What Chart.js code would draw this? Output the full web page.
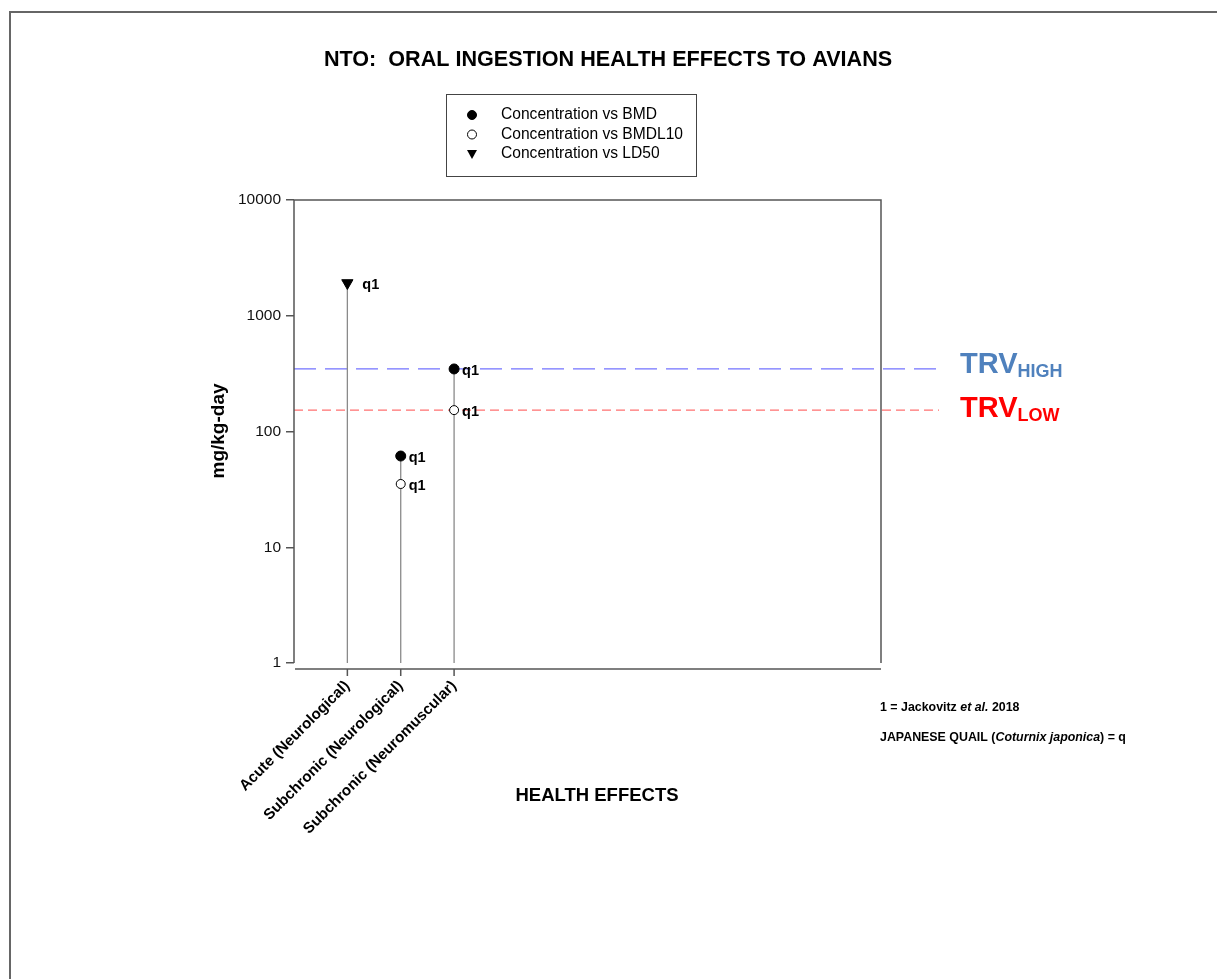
<!DOCTYPE html>
<html>
<head>
<meta charset="utf-8">
<title>NTO: Oral ingestion health effects to avians</title>
<script src="https://cdn.jsdelivr.net/npm/chart.js@4"></script>
<style>
  html, body { margin: 0; padding: 0; background: #fff; overflow: hidden; }
  #page { position: absolute; left: 9px; top: 11px; width: 1400px; height: 1200px;
          border-left: 2px solid #666; border-top: 2px solid #666; }
  #chart { position: absolute; left: 0; top: 0; }
</style>
</head>
<body>
<div id="page"></div>
<canvas id="chart" width="1217" height="979"></canvas>
<script>
// data
const categories = ['Acute (Neurological)', 'Subchronic (Neurological)', 'Subchronic (Neuromuscular)'];
const categoryX = [1, 2, 3];
const bmd = [null, 61.4, 347];
const bmdl10 = [null, 35.2, 153];
const ld50 = [1920, null, null];
const noteLabel = 'q1';
const yTicks = [1, 10, 100, 1000, 10000];
const trvHigh = 347;
const trvLow = 153;

const FONT = 'Arial, "Liberation Sans", sans-serif';
const AXIS = '#555';

function toPoints(values) {
  return categoryX.map((x, i) => ({ x, y: values[i] })).filter(p => p.y != null);
}

// one stem per category, from the axis floor up to the highest mark
const stems = categoryX.map((x, i) => {
  const top = Math.max(...[bmd[i], bmdl10[i], ld50[i]].filter(v => v != null));
  return {
    type: 'line',
    data: [{ x, y: yTicks[0] }, { x, y: top }],
    borderColor: '#8a8a8a',
    borderWidth: 1.3,
    pointRadius: 0,
    order: 10
  };
});

function pointSet(label, values, style) {
  return Object.assign({
    type: 'scatter',
    label,
    data: toPoints(values),
    order: 0
  }, style);
}

const datasets = [
  pointSet('Concentration vs BMD', bmd, {
    pointStyle: 'circle', pointRadius: 5, pointBackgroundColor: '#000',
    pointBorderColor: '#000', pointBorderWidth: 1
  }),
  pointSet('Concentration vs BMDL10', bmdl10, {
    pointStyle: 'circle', pointRadius: 4.5, pointBackgroundColor: '#fff',
    pointBorderColor: '#000', pointBorderWidth: 1
  }),
  pointSet('Concentration vs LD50', ld50, {
    pointStyle: 'triangle', pointRotation: 180, pointRadius: 6.5,
    pointBackgroundColor: '#000', pointBorderColor: '#000', pointBorderWidth: 1
  }),
  ...stems
];

function drawSymbol(ctx, kind, x, y) {
  ctx.beginPath();
  if (kind === 'tri') {
    ctx.moveTo(x - 5, y - 4);
    ctx.lineTo(x + 5, y - 4);
    ctx.lineTo(x, y + 5);
    ctx.closePath();
    ctx.fillStyle = '#000';
    ctx.fill();
  } else {
    ctx.arc(x, y, 4.5, 0, Math.PI * 2);
    ctx.fillStyle = kind === 'open' ? '#fff' : '#000';
    ctx.fill();
    ctx.strokeStyle = '#000';
    ctx.lineWidth = 1;
    ctx.stroke();
  }
}

// draws runs of text with mixed styles, left to right
function drawRuns(ctx, runs, x, y) {
  ctx.textAlign = 'left';
  ctx.textBaseline = 'middle';
  for (const [text, font] of runs) {
    ctx.font = font;
    ctx.fillText(text, x, y);
    x += ctx.measureText(text).width;
  }
}

const annotations = {
  id: 'annotations',
  beforeDatasetsDraw(chart) {
    const { ctx, chartArea: a, scales: { y } } = chart;
    ctx.save();
    const trvLines = [[trvHigh, '#7373ff', [22, 9]], [trvLow, '#ff7070', [9, 5]]];
    for (const [v, color, dash] of trvLines) {
      const py = y.getPixelForValue(v);
      ctx.beginPath();
      ctx.setLineDash(dash);
      ctx.strokeStyle = color;
      ctx.lineWidth = 1.2;
      ctx.moveTo(a.left, py);
      ctx.lineTo(a.right + 58, py);
      ctx.stroke();
    }
    ctx.restore();
  },
  afterDraw(chart) {
    const { ctx, chartArea: a, scales: { x, y } } = chart;
    ctx.save();

    // plot frame: left, top, right, and offset x axis
    ctx.strokeStyle = AXIS;
    ctx.lineWidth = 1.5;
    ctx.beginPath();
    ctx.moveTo(a.left, a.bottom);
    ctx.lineTo(a.left, a.top);
    ctx.lineTo(a.right, a.top);
    ctx.lineTo(a.right, a.bottom);
    const axisY = a.bottom + 6;
    ctx.moveTo(a.left + 1, axisY);
    ctx.lineTo(a.right, axisY);
    for (const cx of categoryX) {
      const px = x.getPixelForValue(cx);
      ctx.moveTo(px, axisY);
      ctx.lineTo(px, axisY + 7);
    }
    ctx.stroke();

    // q1 notes beside each mark
    ctx.fillStyle = '#000';
    ctx.font = 'bold 14.5px ' + FONT;
    ctx.textAlign = 'left';
    ctx.textBaseline = 'middle';
    [0, 1, 2].forEach(di => {
      const meta = chart.getDatasetMeta(di);
      const dx = di === 2 ? 15 : 8;
      meta.data.forEach(el => ctx.fillText(noteLabel, el.x + dx, el.y + 2));
    });

    // TRV labels
    const trvLabels = [[trvHigh, '#4f81bd', 'HIGH', 4], [trvLow, '#ff0000', 'LOW', 7]];
    for (const [v, color, sub, off] of trvLabels) {
      const py = y.getPixelForValue(v) + off;
      ctx.fillStyle = color;
      ctx.textBaseline = 'alphabetic';
      ctx.font = 'bold 29px ' + FONT;
      ctx.fillText('TRV', a.right + 79, py);
      const w = ctx.measureText('TRV').width;
      ctx.font = 'bold 18px ' + FONT;
      ctx.fillText(sub, a.right + 79 + w, py + 4);
    }

    // title
    ctx.fillStyle = '#000';
    ctx.font = 'bold 21.6px ' + FONT;
    ctx.textAlign = 'center';
    ctx.textBaseline = 'middle';
    ctx.fillText('NTO:  ORAL INGESTION HEALTH EFFECTS TO AVIANS', 608, 60);

    // axis titles
    ctx.font = 'bold 18.5px ' + FONT;
    ctx.fillText('HEALTH EFFECTS', 597, 796);
    ctx.save();
    ctx.translate(219, 431);
    ctx.rotate(-Math.PI / 2);
    ctx.font = 'bold 19px ' + FONT;
    ctx.fillText('mg/kg-day', 0, 0);
    ctx.restore();

    // legend
    ctx.strokeStyle = '#444';
    ctx.lineWidth = 1;
    ctx.strokeRect(446.5, 94.5, 250, 82);
    const legendRows = [['fill', datasets[0].label], ['open', datasets[1].label], ['tri', datasets[2].label]];
    legendRows.forEach(([kind, text], i) => {
      const ry = 115 + i * 19.5;
      drawSymbol(ctx, kind, 472, ry);
      ctx.fillStyle = '#000';
      ctx.font = '15.6px ' + FONT;
      ctx.textAlign = 'left';
      ctx.textBaseline = 'middle';
      ctx.fillText(text, 501, ry);
    });

    // footnotes
    ctx.fillStyle = '#000';
    const b = 'bold 12.4px ' + FONT;
    const bi = 'italic bold 12.4px ' + FONT;
    drawRuns(ctx, [['1 = Jackovitz ', b], ['et al.', bi], [' 2018', b]], 880, 708);
    drawRuns(ctx, [['JAPANESE QUAIL (', b], ['Coturnix japonica', bi], [') = q', b]], 880, 738);

    ctx.restore();
  }
};

new Chart(document.getElementById('chart'), {
  type: 'scatter',
  data: { datasets },
  options: {
    responsive: false,
    animation: false,
    layout: { padding: { left: 0, top: 200, right: 336, bottom: 0 } },
    plugins: { legend: { display: false }, tooltip: { enabled: false }, title: { display: false } },
    scales: {
      x: {
        type: 'linear',
        min: 0,
        max: 11,
        afterBuildTicks: s => { s.ticks = categoryX.map(v => ({ value: v })); },
        afterFit: s => { s.height = 316; },
        grid: { display: true, drawOnChartArea: false, drawTicks: true, tickLength: 8, color: 'rgba(0,0,0,0)' },
        border: { display: false },
        ticks: {
          autoSkip: false,
          minRotation: 45,
          maxRotation: 45,
          padding: 6,
          color: '#000',
          font: { family: FONT, size: 15.2, weight: 'bold' },
          callback: v => categories[categoryX.indexOf(v)] || ''
        }
      },
      y: {
        type: 'logarithmic',
        min: yTicks[0],
        max: yTicks[yTicks.length - 1],
        afterBuildTicks: s => { s.ticks = yTicks.map(v => ({ value: v })); },
        afterFit: s => { s.width = 294; },
        grid: { display: true, drawOnChartArea: false, drawTicks: true, tickLength: 8, color: AXIS, lineWidth: 1.5 },
        border: { display: false },
        ticks: {
          padding: 5,
          color: '#111',
          font: { family: FONT, size: 15.5 },
          callback: v => String(v)
        }
      }
    }
  },
  plugins: [annotations]
});
</script>
</body>
</html>
